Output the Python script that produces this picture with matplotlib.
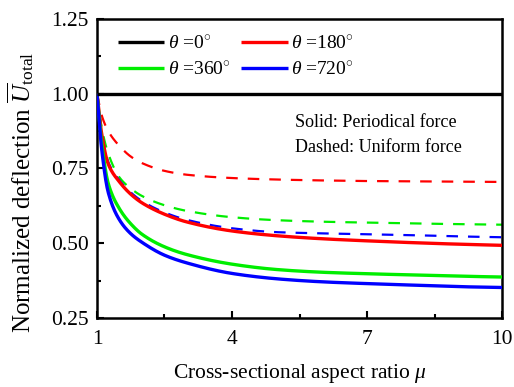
import matplotlib
matplotlib.use("Agg")
import matplotlib.pyplot as plt
import numpy as np

plt.rcParams['font.family'] = ['Liberation Serif', 'DejaVu Serif']
plt.rcParams['mathtext.fontset'] = 'custom'
plt.rcParams['mathtext.rm'] = 'Liberation Serif'
plt.rcParams['mathtext.it'] = 'Liberation Serif:italic'
plt.rcParams['mathtext.bf'] = 'Liberation Serif:bold'

mu = [1, 1.1, 1.25, 1.5, 1.75, 2, 2.5, 3, 4, 5, 6, 7, 8, 9, 10]

# Solid: periodical force
solid_0 = [1.0] * 15
solid_180 = [1.0, 0.87, 0.765, 0.705, 0.664, 0.635, 0.597, 0.571, 0.541, 0.525, 0.515, 0.508, 0.502, 0.497, 0.493]
solid_360 = [1.0, 0.84, 0.70, 0.615, 0.565, 0.53, 0.488, 0.462, 0.43, 0.412, 0.403, 0.398, 0.394, 0.39, 0.387]
solid_720 = [1.0, 0.82, 0.67, 0.578, 0.532, 0.503, 0.46, 0.434, 0.399, 0.381, 0.371, 0.365, 0.36, 0.355, 0.352]

# Dashed: uniform force
dash_180 = [1.0, 0.93, 0.875, 0.825, 0.79, 0.768, 0.742, 0.729, 0.718, 0.713, 0.71, 0.708, 0.707, 0.706, 0.705]
dash_360 = [1.0, 0.89, 0.80, 0.72, 0.683, 0.658, 0.627, 0.608, 0.587, 0.577, 0.572, 0.569, 0.566, 0.564, 0.562]
dash_720 = [1.0, 0.875, 0.772, 0.71, 0.67, 0.641, 0.603, 0.578, 0.55, 0.537, 0.533, 0.53, 0.527, 0.523, 0.52]

labels = [r'$\theta$ =0$^{\circ}$', r'$\theta$ =180$^{\circ}$', r'$\theta$ =360$^{\circ}$', r'$\theta$ =720$^{\circ}$']
colors = ['#000000', '#ff0000', '#00ee00', '#0000ff']


def pchip(x, y, xs):
    x = np.asarray(x, float)
    y = np.asarray(y, float)
    h = np.diff(x)
    d = np.diff(y) / h
    n = len(x)
    m = np.zeros(n)
    for k in range(1, n - 1):
        if d[k - 1] * d[k] <= 0:
            m[k] = 0
        else:
            w1 = 2 * h[k] + h[k - 1]
            w2 = h[k] + 2 * h[k - 1]
            m[k] = (w1 + w2) / (w1 / d[k - 1] + w2 / d[k])
    m[0] = d[0]
    m[-1] = d[-1]
    idx = np.clip(np.searchsorted(x, xs) - 1, 0, n - 2)
    t = (xs - x[idx]) / h[idx]
    h00 = 2 * t**3 - 3 * t**2 + 1
    h10 = t**3 - 2 * t**2 + t
    h01 = -2 * t**3 + 3 * t**2
    h11 = t**3 - t**2
    return h00 * y[idx] + h10 * h[idx] * m[idx] + h01 * y[idx + 1] + h11 * h[idx] * m[idx + 1]


xs = np.linspace(1, 10, 600)

fig = plt.figure(figsize=(5.14, 3.87), dpi=100)
ax = fig.add_axes([0.1887, 0.1783, 0.788, 0.7727])

handles = []
solids = [solid_0, solid_180, solid_360, solid_720]
for s, c, lab in zip(solids, colors, labels):
    h, = ax.plot(xs, pchip(mu, s, xs), color=c, lw=2.4, label=lab,
                 zorder=4 if c == '#000000' else 3, solid_capstyle='butt')
    handles.append(h)

for d, c in zip([dash_180, dash_360, dash_720], colors[1:]):
    ax.plot(xs, pchip(mu, d, xs), color=c, lw=1.6, dashes=(5.2, 4.5), zorder=2)

ax.set_xlim(1, 10)
ax.set_ylim(0.25, 1.25)
ax.set_xticks([1, 4, 7, 10])
ax.set_xticks([2.5, 5.5, 8.5], minor=True)
ax.set_yticks([0.25, 0.50, 0.75, 1.00, 1.25])
ax.set_yticklabels(['0.25', '0.50', '0.75', '1.00', '1.25'])
ax.set_yticks([0.375, 0.625, 0.875, 1.125], minor=True)
ax.tick_params(which='both', direction='in', width=1.5, labelsize=15.5)
ax.tick_params(axis='x', pad=9)
ax.tick_params(axis='y', pad=6)
ax.tick_params(which='major', length=5)
ax.tick_params(which='minor', length=3)
for sp in ax.spines.values():
    sp.set_linewidth(1.8)

ax.set_xlabel(r'Cross-sectional aspect ratio $\mu$', fontsize=15.5, labelpad=9)
ax.set_ylabel(r'Normalized deflection $\overline{U}_{\mathrm{total}}$', fontsize=18, labelpad=2)
ax.yaxis.set_label_coords(-0.15, 0.42)

order = [0, 2, 1, 3]
ax.legend([handles[i] for i in order], [labels[i] for i in order], ncol=2,
          loc='upper left', bbox_to_anchor=(0.008, 1.005), frameon=False,
          fontsize=14, handlelength=2.4, columnspacing=0.5, handletextpad=0.2,
          labelspacing=0.45)

ax.text(0.489, 0.655, 'Solid: Periodical force', transform=ax.transAxes,
        ha='left', va='center', fontsize=13)
ax.text(0.489, 0.569, 'Dashed: Uniform force', transform=ax.transAxes,
        ha='left', va='center', fontsize=13)

fig.savefig('out.png', dpi=100)
